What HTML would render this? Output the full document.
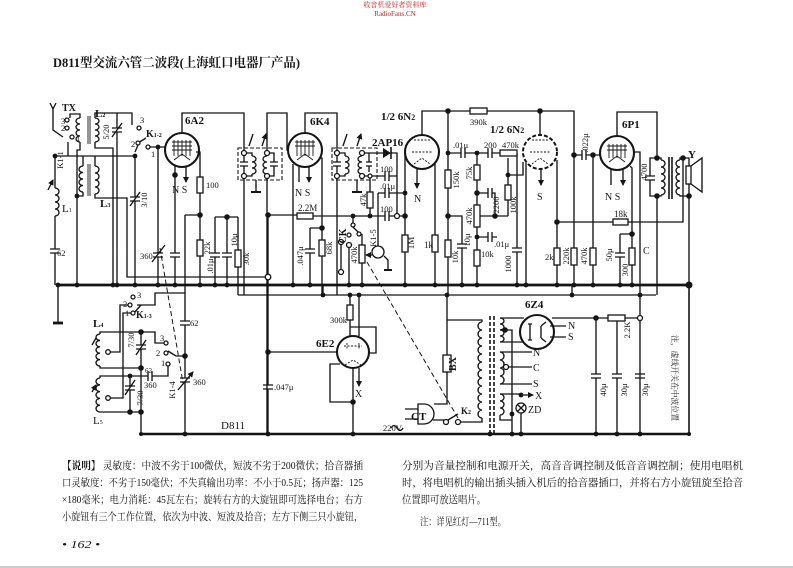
<!DOCTYPE html>
<html><head><meta charset="utf-8">
<style>
html,body{margin:0;padding:0;background:#fff;}
svg{display:block}
.l{stroke:#151515;stroke-width:1.35;fill:none}
.th{stroke:#151515;stroke-width:2.8;fill:none}
.dsh{stroke:#151515;stroke-width:1;fill:none;stroke-dasharray:5,3}
.r{stroke:#151515;stroke-width:1.3;fill:#fff}
.tube{stroke:#151515;stroke-width:2.1;fill:none}
.t{font-family:"Liberation Serif","Noto Serif CJK SC",serif;fill:#151515;font-size:8.5px}
.tb{font-family:"Liberation Serif","Noto Serif CJK SC",serif;fill:#151515;font-size:11px;font-weight:bold}
.d{font-family:"Liberation Serif","Noto Serif CJK SC",serif;fill:#111;font-size:10.5px}
</style></head><body>
<svg width="793" height="568" viewBox="0 0 793 568" xmlns="http://www.w3.org/2000/svg">
<defs>
<marker id="a" markerWidth="6" markerHeight="6" refX="5" refY="3" orient="auto" markerUnits="userSpaceOnUse"><path d="M0,0 L6,3 L0,6 Z" fill="#151515"/></marker>
</defs>
<rect x="0" y="0" width="793" height="568" fill="#fff"/>
<line x1="0" y1="567" x2="793" y2="567" stroke="#bbb" stroke-width="1.5"/>

<!-- watermark -->
<text x="395" y="7" text-anchor="middle" font-family="Liberation Serif,Noto Serif CJK SC,serif" font-size="7" fill="#c22">收音机爱好者资料库</text>
<text x="395" y="16" text-anchor="middle" font-family="Liberation Serif,serif" font-size="7" fill="#c22">RadioFans.CN</text>

<!-- title -->
<text x="53" y="67" class="tb" style="font-size:13px" textLength="247" lengthAdjust="spacingAndGlyphs">D811型交流六管二波段(上海虹口电器厂产品)</text>

<!-- buses -->
<path class="th" d="M58,285 H690"/>
<path class="th" d="M141,434 H689" style="stroke-width:2.4"/>
<path class="l" d="M689,285 V436" style="stroke-width:1.6"/>
<path class="l" d="M238,295 H656"/>
<path class="l" d="M58,285 V322"/>
<path class="th" d="M53,323 H63"/>

<!-- ===== antenna / input ===== -->
<path class="l" d="M50,103 L53,109 L56,103 M53,109 V130 L63,137 M68,142 V156 M55,156 H135 M55,156 V188 M55,216 V249 M50,249 H60 M50,253 H60 M55,253 V285
M80,118 V114 H70 V118 M80,142 V150 H77 V285
M95,118 V113 H132 V125 M95,142 V148 H113 V285
M117,113 V128 M112,128 H122 M112,132 H122 M117,132 V285
M83,156 V166 M83,192 V196 H77
M95,156 V166 M95,194 V198 H127 V277 H268
M135,156 V197 M130,197 H140 M130,201 H140 M135,201 V285
M138,145 L135,152 M138,143 L146,138
M148,147 H166"/>
<path class="l" d="M112,137 L122,123 M130,206 L140,192 M48,190 L53,180" marker-end="url(#a)"/>
<path class="l" style="stroke-width:0.9" d="M88,116 V144 M90,116 V144 M88,164 V196 M90,164 V196"/>
<path class="l" d="M55,188 a4,3.5 0 0 1 0,7 a4,3.5 0 0 1 0,7 a4,3.5 0 0 1 0,7 a4,3.5 0 0 1 0,7"/>
<path class="l" d="M80,118 a4,3 0 0 0 0,6 a4,3 0 0 0 0,6 a4,3 0 0 0 0,6 a4,3 0 0 0 0,6"/>
<path class="l" d="M95,118 a4,3 0 0 1 0,6 a4,3 0 0 1 0,6 a4,3 0 0 1 0,6 a4,3 0 0 1 0,6"/>
<path class="l" d="M83,166 a4,3.25 0 0 0 0,6.5 a4,3.25 0 0 0 0,6.5 a4,3.25 0 0 0 0,6.5 a4,3.25 0 0 0 0,6.5"/>
<path class="l" d="M95,166 a4,3.5 0 0 1 0,7 a4,3.5 0 0 1 0,7 a4,3.5 0 0 1 0,7 a4,3.5 0 0 1 0,7"/>
<g class="r"><circle cx="67" cy="120" r="2"/><circle cx="67" cy="128" r="2"/><circle cx="72" cy="137" r="2"/>
<circle cx="139" cy="128" r="2"/><circle cx="138" cy="143" r="2"/><circle cx="148" cy="147" r="2"/></g>

<!-- ===== 6A2 ===== -->
<circle class="tube" cx="182" cy="150" r="17"/>
<path class="l" style="stroke-width:0.9" d="M172,142 H192 M172,146 H192 M172,150 H192 M174,140 V156 M178,140 V156 M182,140 V156 M186,140 V156 M190,140 V156 M174,160 L182,154 L190,160"/>
<path class="l" d="M158,147 V253 M153,253 H163 M153,257 H163 M158,257 V285
M175,166 V253 M170,253 H180 M170,257 H180 M175,257 V285
M182,133 V113 H244 V153
M196,152 H200 V177 M200,193 V240 M200,256 V285
M185,215 H200 M185,215 V321 M180,321 H190 M180,325 H190 M185,325 V378 M180,378 H190 M180,382 H190 M185,382 V434
M215,217 H238 M215,217 V253 M210,253 H220 M210,257 H220 M215,257 V285
M227,217 V253 M222,253 H232 M222,257 H232 M227,257 V285
M238,217 V250 M238,267 V295
M244,176 V295"/>
<path class="l" d="M186,166 V182" marker-end="url(#a)"/>
<path class="l" d="M152,262 L165,245 M178,390 L193,372" marker-end="url(#a)"/>
<rect class="r" x="197" y="177" width="6" height="16"/>
<rect class="r" x="197" y="240" width="6" height="16"/>
<rect class="r" x="235" y="250" width="6" height="17"/>

<!-- IF1 -->
<rect x="238" y="148" width="44" height="32" fill="none" stroke="#151515" stroke-width="1.1" stroke-dasharray="4,2"/>
<path class="l" d="M244,153 V162 M240,162 H248 M240,166 H248 M244,166 V176 M244,153 H252 V156 M252,174 V176 H244
M267,153 V156 M267,174 V176 M267,153 H274 V162 M270,162 H278 M270,166 H278 M274,166 V176 H267
M256,180 V192 M267,176 V434"/>
<path class="th" d="M251,192 H261" style="stroke-width:2"/>
<path class="l" d="M252,156 a4,3 0 0 1 0,6 a4,3 0 0 1 0,6 a4,3 0 0 1 0,6"/>
<path class="l" d="M267,156 a4,3 0 0 0 0,6 a4,3 0 0 0 0,6 a4,3 0 0 0 0,6"/>
<path class="l" d="M249,146 L253,134 M262,146 L266,134" marker-end="url(#a)"/>

<!-- ===== 6K4 ===== -->
<circle class="tube" cx="305" cy="150" r="17"/>
<path class="l" style="stroke-width:0.9" d="M295,142 H315 M295,146 H315 M297,140 V156 M301,140 V156 M305,140 V156 M309,140 V156 M313,140 V156 M297,160 L305,154 L313,160"/>
<path class="l" d="M267,153 V113 H287 V150 H289
M305,133 V113 H337 V153
M293,164 V285
M320,158 H322 V295 M310,228 H322 M310,228 V249 M305,249 H315 M305,253 H315 M310,253 V285
M268,215 H297 M313,216 H385 M385,211 V221 M389,211 V221 M389,216 H405"/>
<path class="l" d="M299,167 V182 M309,167 V182" marker-end="url(#a)"/>
<rect class="r" x="297" y="213" width="16" height="6"/>
<rect class="r" x="319" y="240" width="6" height="16"/>

<!-- IF2 -->
<rect x="332" y="148" width="45" height="32" fill="none" stroke="#151515" stroke-width="1.1" stroke-dasharray="4,2"/>
<path class="l" d="M337,153 V162 M333,162 H341 M333,166 H341 M337,166 V176 M337,153 H345 V156 M345,174 V176 H337 M337,176 V295
M362,153 V156 M362,174 V176 M362,153 H369 V162 M366,162 H372 M366,166 H372 M369,166 V172
M362,153 H383 M391,153 H397 V216
M362,176 H385 M385,171 V181 M389,171 V181 M389,176 H397
M370,176 V192 M370,208 V216
M357,180 V192
M378,193 H385 M385,188 V198 M389,188 V198 M389,193 H405 M378,193 V246
M384,256 L388,260 V270"/>
<path class="th" d="M352,192 H362 M384,270 H392" style="stroke-width:2"/>
<path d="M383,148 L383,158 L391,153 Z" fill="#151515"/><path class="l" d="M391,147 V159" style="stroke-width:1.6"/>
<path class="l" d="M345,156 a4,3 0 0 1 0,6 a4,3 0 0 1 0,6 a4,3 0 0 1 0,6"/>
<path class="l" d="M362,156 a4,3 0 0 0 0,6 a4,3 0 0 0 0,6 a4,3 0 0 0 0,6"/>
<path class="l" d="M343,146 L347,134 M357,146 L361,134" marker-end="url(#a)"/>
<rect class="r" x="367" y="192" width="6" height="16"/>
<circle class="l" cx="378" cy="252" r="6"/>
<path class="l" d="M353,216 V223 M353,227 L359,233 M349,247 V285 M362,234 V245 M362,263 V285 M341,244 V270"/>
<g class="r"><circle cx="353" cy="225" r="2"/><circle cx="349" cy="235" r="2"/><circle cx="359" cy="234" r="2"/><circle cx="341" cy="242" r="2.5"/><circle cx="349" cy="245" r="2.5"/><circle cx="341" cy="272" r="2.5"/></g>
<rect class="r" x="359" y="245" width="6" height="18"/>
<path class="l" d="M372,255 L366,255" marker-end="url(#a)"/>
<path class="dsh" d="M367,262 L458,418"/>
<path class="dsh" d="M160,248 L183,383"/>

<!-- ===== 6N2 #1 ===== -->
<circle class="tube" cx="422" cy="152" r="17"/>
<path class="l" style="stroke-width:0.9" d="M414,140 H430 M412,152 H432 M414,164 L422,158 L430,164" stroke-dasharray="2,1.5"/>
<path class="l" d="M405,152 V235 M405,252 V285
M435,163 V235 M435,252 V285
M422,135 V111 H470 M487,111 H574 V248 M574,265 V285
M448,111 V170 M448,188 V240 M448,257 V295
M448,153 H461 M461,148 V158 M465,148 V158 M465,153 H488 M488,148 V158 M492,148 V158 M492,153 H500 M517,153 V248 M512,248 H522 M512,252 H522 M517,252 V285
M477,153 V165 M477,180 V205 M477,227 V250 M477,266 V285
M477,193 H488 M488,188 V198 M492,188 V198 M492,193 H495 V216 M480,216 H508
M477,237 H488 M488,232 V242 M492,232 V242 M492,237 H497
M448,216 H462 V244 M457,244 H467 M457,248 H467 M462,248 V285
M508,158 V175 M508,175 H523 V162 M508,175 V185 M508,200 V216"/>
<path class="l" d="M417,168 V188" marker-end="url(#a)"/>
<rect class="r" x="402" y="235" width="6" height="17"/>
<rect class="r" x="432" y="235" width="6" height="17"/>
<rect class="r" x="470" y="108" width="17" height="6"/>
<rect class="r" x="445" y="170" width="6" height="18"/>
<rect class="r" x="445" y="240" width="6" height="17"/>
<rect class="r" x="500" y="150" width="17" height="6"/>
<rect class="r" x="474" y="165" width="6" height="15"/>
<rect class="r" x="474" y="205" width="6" height="22"/>
<rect class="r" x="474" y="250" width="6" height="16"/>
<rect class="r" x="505" y="185" width="6" height="15"/>

<!-- ===== 6N2 #2 ===== -->
<circle cx="540" cy="152" r="17" fill="none" stroke="#151515" stroke-width="2" stroke-dasharray="4,2"/>
<path class="l" style="stroke-width:0.9" d="M532,140 H548 M530,152 H550 M532,164 L540,158 L548,164" stroke-dasharray="2,1.5"/>
<path class="l" d="M540,135 V111 M526,163 V285 M557,160 V248 M557,265 V285
M557,222 H613 M628,222 H683 V158
M574,155 H582 M582,150 V160 M586,150 V160 M586,155 H600
M593,155 V248 M593,265 V285"/>
<path class="l" d="M541,168 V185" marker-end="url(#a)"/>
<rect class="r" x="554" y="248" width="6" height="17"/>
<rect class="r" x="571" y="248" width="6" height="17"/>
<rect class="r" x="590" y="248" width="6" height="17"/>
<rect class="r" x="613" y="219" width="15" height="6"/>

<!-- ===== 6P1 ===== -->
<circle class="tube" cx="617" cy="153" r="17"/>
<path class="l" style="stroke-width:0.9" d="M607,146 H627 M607,150 H627 M609,144 V158 M613,144 V158 M617,144 V158 M621,144 V158 M625,144 V158 M609,162 L617,156 L625,162"/>
<path class="l" d="M617,136 V112 H657 V158
M630,166 L632,168 V248 M632,265 V285
M620,234 H632 M620,234 V253 M615,253 H625 M615,257 H625 M620,257 V285
M634,152 H640 V434
M657,158 H650 V176 M645,176 H655 M645,180 H655 M650,180 V196 H657
M657,158 H661 V160 M661,195 V196 H657 M657,196 V295
M683,158 H680 V160 M680,195 V196 H689
M683,158 H689 V166 M689,184 V285"/>
<path class="l" d="M611,168 V185 M623,168 V185" marker-end="url(#a)"/>
<rect class="r" x="629" y="248" width="6" height="17"/>
<path class="l" d="M661,160 a4,3.5 0 0 1 0,7 a4,3.5 0 0 1 0,7 a4,3.5 0 0 1 0,7 a4,3.5 0 0 1 0,7 a4,3.5 0 0 1 0,7"/>
<path class="l" d="M680,160 a4,3.5 0 0 0 0,7 a4,3.5 0 0 0 0,7 a4,3.5 0 0 0 0,7 a4,3.5 0 0 0 0,7 a4,3.5 0 0 0 0,7"/>
<path class="l" style="stroke-width:1.6" d="M669,157 V199 M672,157 V199"/>
<rect class="r" x="686" y="166" width="5" height="18"/>
<path class="l" d="M691,166 L702,158 L702,192 L691,184"/>

<!-- ===== lower left RF ===== -->
<path class="l" d="M137,305 H155 V293 H185
M128,305 H120 V352 H108
M131,313 H123 V398 H108
M141,332 H100 V334 M100,366 V368 H141
M141,332 V345 M136,345 H146 M136,349 H146 M141,349 V434
M141,332 H155 V343 H164
M176,356 L168,351 M176,356 H185
M168,366 V376 H152 M152,371 V381 M148,371 V381 M148,376 H100 V378
M100,412 H141
M130,376 V386 M125,386 H135 M125,390 H135 M130,390 V412
M134,313 L141,305"/>
<path class="l" d="M100,334 a4,3.2 0 0 0 0,6.4 a4,3.2 0 0 0 0,6.4 a4,3.2 0 0 0 0,6.4 a4,3.2 0 0 0 0,6.4 a4,3.2 0 0 0 0,6.4"/>
<path class="l" d="M100,378 a4,3.4 0 0 0 0,6.8 a4,3.4 0 0 0 0,6.8 a4,3.4 0 0 0 0,6.8 a4,3.4 0 0 0 0,6.8 a4,3.4 0 0 0 0,6.8"/>
<path class="l" d="M136,355 L146,340 M125,395 L135,380 M92,345 L96,338 M92,392 L96,385" marker-end="url(#a)"/>
<g class="r"><circle cx="133" cy="297" r="2"/><circle cx="130" cy="305" r="2"/><circle cx="133" cy="313" r="2"/>
<circle cx="166" cy="343" r="2"/><circle cx="166" cy="353" r="2"/><circle cx="168" cy="364" r="2"/><circle cx="108" cy="352" r="2.3"/><circle cx="108" cy="398" r="2.3"/></g>

<!-- AGC & 6E2 -->
<path class="l" d="M268,215 V385 M263,385 H273 M263,389 H273 M268,389 V434 M268,352 H338
M323,285 V295
M350,295 V305 M350,320 V336 M359,295 V336
M350,327 H376 V353 H369
M353,368 V434 M353,402 H330 V364 H340"/>
<path class="l" d="M359,368 V386" marker-end="url(#a)"/>
<rect class="r" x="347" y="305" width="6" height="15"/>
<circle class="tube" cx="353" cy="352" r="16"/>
<path class="l" style="stroke-width:0.9" d="M344,346 H362 M347,343 V350 M359,343 V350 M345,365 L353,360 L361,365" stroke-dasharray="2,1.5"/>

<!-- power -->
<path class="l" d="M447,295 V320 M447,320 V355 M447,372 V404 H434
M433,420 H444 M448,420 L458,414 M460,422 H482 V418
M447,320 H482 V322
M405,409 H418 M405,419 H418
M500,318 H524 M500,342 H524 M500,330 H512 V434
M552,318 H608 M625,318 H637
M500,352 H530 M509,367 H530 M500,384 H530
M500,394 H521 V395 M521,413 V434 M500,415 V420 H512
M596,318 V374 M591,374 H601 M591,378 H601 M596,378 V434
M617,321 V374 M612,374 H622 M612,378 H622 M617,378 V434
M635,374 H645 M635,378 H645
M572,285 V295"/>
<path class="l" d="M418,404 H424 A10,10 0 0 1 424,424 H418 Z"/>
<path class="l" d="M391,428 q3,-5 6,0 q3,5 6,0"/>
<rect class="r" x="443" y="355" width="8" height="17"/>
<path class="l" d="M482,322 a4,4 0 0 0 0,8 a4,4 0 0 0 0,8 a4,4 0 0 0 0,8 a4,4 0 0 0 0,8 a4,4 0 0 0 0,8 a4,4 0 0 0 0,8 a4,4 0 0 0 0,8 a4,4 0 0 0 0,8 a4,4 0 0 0 0,8 a4,4 0 0 0 0,8 a4,4 0 0 0 0,8 a4,4 0 0 0 0,8"/>
<path class="l" style="stroke-width:1.6" stroke-dasharray="4,2" d="M490,316 V434 M494,316 V434"/>
<path class="l" d="M500,318 a4,3 0 0 1 0,6 a4,3 0 0 1 0,6 a4,3 0 0 1 0,6 a4,3 0 0 1 0,6"/>
<path class="l" d="M500,352 a4,4 0 0 1 0,8 a4,4 0 0 1 0,8 a4,4 0 0 1 0,8 a4,4 0 0 1 0,8"/>
<path class="l" d="M500,394 a4,3.5 0 0 1 0,7 a4,3.5 0 0 1 0,7 a4,3.5 0 0 1 0,7"/>
<circle class="tube" cx="537" cy="332" r="17"/>
<path class="l" d="M530,324 V340 M528,324 H532 M528,340 H532 M541,326 V338 M541,326 L546,322 M541,338 L546,342"/>
<path class="l" d="M550,326 H566 M550,337 H566 M530,352 H532 M530,367 H532 M530,384 H532 M521,395 H533" marker-end="url(#a)"/>
<circle class="r" cx="506" cy="367" r="2.5"/>
<circle class="r" cx="521" cy="408" r="5"/>
<path class="l" d="M517.5,404.5 L524.5,411.5 M524.5,404.5 L517.5,411.5"/>
<g class="r"><circle cx="446" cy="422" r="2.5"/><circle cx="458" cy="422" r="2.5"/></g>
<rect class="r" x="608" y="315" width="17" height="6"/>

<!-- open junctions -->
<g class="r">
<circle cx="244" cy="153" r="2.5"/><circle cx="244" cy="176" r="2.5"/><circle cx="267" cy="153" r="2.5"/><circle cx="267" cy="176" r="2.5"/>
<circle cx="337" cy="153" r="2.5"/><circle cx="337" cy="176" r="2.5"/><circle cx="362" cy="153" r="2.5"/><circle cx="362" cy="176" r="2.5"/>
<circle cx="397" cy="216" r="2.5"/><circle cx="268" cy="277" r="2.8"/><circle cx="640" cy="318" r="2.5"/><circle cx="370" cy="176" r="2"/>
</g>
<!-- filled junctions -->
<g fill="#151515">
<circle cx="58" cy="285" r="2.4"/><circle cx="77" cy="285" r="2.4"/><circle cx="113" cy="285" r="2.4"/><circle cx="117" cy="285" r="2.4"/><circle cx="135" cy="285" r="2.4"/><circle cx="158" cy="285" r="2.4"/><circle cx="175" cy="285" r="2.4"/><circle cx="200" cy="285" r="2.4"/><circle cx="215" cy="285" r="2.4"/><circle cx="227" cy="285" r="2.4"/><circle cx="293" cy="285" r="2.4"/><circle cx="310" cy="285" r="2.4"/><circle cx="349" cy="285" r="2.4"/><circle cx="362" cy="285" r="2.4"/><circle cx="405" cy="285" r="2.4"/><circle cx="435" cy="285" r="2.4"/><circle cx="462" cy="285" r="2.4"/><circle cx="477" cy="285" r="2.4"/><circle cx="517" cy="285" r="2.4"/><circle cx="526" cy="285" r="2.4"/><circle cx="557" cy="285" r="2.4"/><circle cx="574" cy="285" r="2.4"/><circle cx="593" cy="285" r="2.4"/><circle cx="620" cy="285" r="2.4"/><circle cx="632" cy="285" r="2.4"/><circle cx="689" cy="285" r="3.5"/>
<circle cx="77" cy="196" r="2.4"/><circle cx="135" cy="156" r="2.4"/><circle cx="55" cy="156" r="2.4"/><circle cx="158" cy="147" r="2.4"/><circle cx="175" cy="175" r="2.8"/><circle cx="200" cy="215" r="2.8"/><circle cx="227" cy="217" r="2.8"/><circle cx="268" cy="215" r="2.8"/><circle cx="322" cy="228" r="2.8"/><circle cx="353" cy="216" r="2.4"/><circle cx="370" cy="216" r="2.4"/><circle cx="405" cy="193" r="2.4"/><circle cx="405" cy="216" r="2.8"/><circle cx="448" cy="111" r="2.8"/><circle cx="448" cy="153" r="2.4"/><circle cx="448" cy="216" r="2.8"/><circle cx="477" cy="153" r="2.4"/><circle cx="477" cy="193" r="2.8"/><circle cx="477" cy="237" r="2.4"/><circle cx="495" cy="216" r="2.8"/><circle cx="508" cy="175" r="2.4"/><circle cx="540" cy="111" r="2.8"/><circle cx="574" cy="155" r="2.8"/><circle cx="593" cy="155" r="2.8"/><circle cx="557" cy="222" r="2.8"/><circle cx="632" cy="234" r="2.8"/><circle cx="657" cy="158" r="2.8"/><circle cx="657" cy="196" r="2.8"/><circle cx="683" cy="158" r="2.8"/><circle cx="689" cy="196" r="2.8"/>
<circle cx="141" cy="332" r="2.8"/><circle cx="141" cy="368" r="2.8"/><circle cx="130" cy="376" r="2.4"/><circle cx="141" cy="412" r="2.8"/><circle cx="130" cy="412" r="2.8"/><circle cx="185" cy="356" r="2.8"/><circle cx="268" cy="352" r="2.8"/><circle cx="353" cy="402" r="2.8"/><circle cx="350" cy="295" r="2.4"/><circle cx="359" cy="295" r="2.4"/><circle cx="323" cy="295" r="2.4"/><circle cx="447" cy="295" r="2.4"/><circle cx="572" cy="295" r="2.4"/><circle cx="640" cy="295" r="2.4"/><circle cx="596" cy="318" r="2.8"/><circle cx="505" cy="330" r="2.8"/><circle cx="521" cy="395" r="2.4"/><circle cx="512" cy="414" r="2.4"/>
<circle cx="141" cy="434" r="2"/><circle cx="185" cy="434" r="2.4"/><circle cx="268" cy="434" r="2.4"/><circle cx="353" cy="434" r="2.4"/><circle cx="490" cy="434" r="2.4"/><circle cx="512" cy="434" r="2.4"/><circle cx="521" cy="434" r="2.4"/><circle cx="596" cy="434" r="2.4"/><circle cx="617" cy="434" r="2.4"/><circle cx="640" cy="434" r="2.4"/><circle cx="689" cy="434" r="2"/>
</g>

<!-- ===== labels ===== -->
<g class="tb">
<text x="62" y="111" style="font-size:10px">TX</text>
<text x="95" y="117">L<tspan style="font-size:6px">2</tspan></text>
<text x="100" y="207">L<tspan style="font-size:6px">3</tspan></text>
<text x="62" y="212" style="font-weight:normal">L<tspan style="font-size:6px">1</tspan></text>
<text x="146" y="137" style="font-size:10px">K<tspan style="font-size:6px">1-2</tspan></text>
<text x="185" y="124">6A2</text>
<text x="310" y="125">6K4</text>
<text x="372" y="146">2AP16</text>
<text x="381" y="120">1/2 6N<tspan style="font-size:8px">2</tspan></text>
<text x="490" y="133">1/2 6N<tspan style="font-size:8px">2</tspan></text>
<text x="622" y="128">6P1</text>
<text x="688" y="158">Y</text>
<text x="136" y="318" style="font-size:10px">K<tspan style="font-size:6px">1-3</tspan></text>
<text x="93" y="327">L<tspan style="font-size:6px">4</tspan></text>
<text x="93" y="424" style="font-weight:normal">L<tspan style="font-size:6px">5</tspan></text>
<text x="221" y="429" style="font-weight:normal">D811</text>
<text x="316" y="347">6E2</text>
<text x="525" y="308">6Z4</text>
<text x="411" y="420">CT</text>
<text x="461" y="414" style="font-size:9px">K<tspan style="font-size:6px">2</tspan></text>
</g>
<g class="t">
<text x="61" y="124">3</text><text x="61" y="131">2</text><text x="76" y="141">1</text>
<text x="140" y="123">3</text><text x="131" y="147">2</text><text x="151" y="157">1</text>
<text x="172" y="193" style="font-size:10px">N S</text>
<text x="206" y="188">100</text>
<text x="140" y="259">360</text>
<text x="57" y="256">62</text>
<text x="295" y="196" style="font-size:10px">N S</text>
<text x="298" y="211" style="font-size:9px">2.2M</text>
<text x="380" y="172">100</text>
<text x="380" y="189">.01μ</text>
<text x="380" y="212">100</text>
<text x="414" y="202" style="font-size:10px">N</text>
<text x="424" y="248" style="font-size:9px">1k</text>
<text x="470" y="125">390k</text>
<text x="453" y="148">.01μ</text>
<text x="484" y="148">200</text>
<text x="502" y="148">470k</text>
<text x="481" y="257">10k</text>
<text x="494" y="247">.01μ</text>
<text x="537" y="200" style="font-size:10px">S</text>
<text x="605" y="200" style="font-size:10px">N S</text>
<text x="614" y="217" style="font-size:9px">18k</text>
<text x="545" y="260">2k</text>
<text x="643" y="254" style="font-size:10px">C</text>
<text x="137" y="298">3</text><text x="123" y="307">2</text><text x="125" y="316">1</text>
<text x="160" y="341">3</text><text x="156" y="356">2</text><text x="161" y="366">1</text>
<text x="190" y="326">62</text>
<text x="145" y="373" style="font-size:7px">62</text>
<text x="144" y="388">360</text>
<text x="193" y="385">360</text>
<text x="274" y="390">.047μ</text>
<text x="330" y="323">300k</text>
<text x="355" y="397" style="font-size:10px">X</text>
<text x="383" y="431">220V</text>
<text x="568" y="329" style="font-size:10px">N</text>
<text x="568" y="340" style="font-size:10px">S</text>
<text x="533" y="356" style="font-size:10px">N</text>
<text x="533" y="371" style="font-size:10px">C</text>
<text x="533" y="387" style="font-size:10px">S</text>
<text x="535" y="399" style="font-size:10px">X</text>
<text x="528" y="413" style="font-size:10px">ZD</text>
</g>
<g class="t" text-anchor="middle">
<text x="63" y="160" transform="rotate(-90 63 160)">K1-1</text>
<text x="109" y="132" transform="rotate(-90 109 132)">5/20</text>
<text x="147" y="200" transform="rotate(-90 147 200)">3/10</text>
<text x="210" y="248" transform="rotate(-90 210 248)">22k</text>
<text x="237" y="240" transform="rotate(-90 237 240)">10μ</text>
<text x="213" y="266" transform="rotate(-90 213 266)">.01μ</text>
<text x="249" y="259" transform="rotate(-90 249 259)">30k</text>
<text x="303" y="256" transform="rotate(-90 303 256)">.047μ</text>
<text x="332" y="248" transform="rotate(-90 332 248)">68k</text>
<text x="346" y="236" transform="rotate(-90 346 236)" style="font-size:10px;font-weight:bold">CK</text>
<text x="376" y="238" transform="rotate(-90 376 238)">K1-5</text>
<text x="357" y="255" transform="rotate(-90 357 255)">470k</text>
<text x="366" y="200" transform="rotate(-90 366 200)">47k</text>
<text x="414" y="243" transform="rotate(-90 414 243)" style="font-size:9px">1M</text>
<text x="459" y="180" transform="rotate(-90 459 180)">150k</text>
<text x="472" y="173" transform="rotate(-90 472 173)">75k</text>
<text x="499" y="205" transform="rotate(-90 499 205)">2200</text>
<text x="472" y="216" transform="rotate(-90 472 216)">470k</text>
<text x="516" y="205" transform="rotate(-90 516 205)">100k</text>
<text x="470" y="240" transform="rotate(-90 470 240)">10μ</text>
<text x="458" y="257" transform="rotate(-90 458 257)">10k</text>
<text x="511" y="264" transform="rotate(-90 511 264)">1000</text>
<text x="569" y="256" transform="rotate(-90 569 256)">220k</text>
<text x="587" y="256" transform="rotate(-90 587 256)">470k</text>
<text x="612" y="255" transform="rotate(-90 612 255)">50μ</text>
<text x="628" y="270" transform="rotate(-90 628 270)">300</text>
<text x="588" y="143" transform="rotate(-90 588 143)">.022μ</text>
<text x="647" y="172" transform="rotate(-90 647 172)">4700</text>
<text x="134" y="340" transform="rotate(-90 134 340)">7/30</text>
<text x="143" y="398" transform="rotate(-90 143 398)">7/30</text>
<text x="175" y="390" transform="rotate(-90 175 390)">K1-4</text>
<text x="456" y="364" transform="rotate(-90 456 364)" style="font-size:10px;font-weight:bold">BX</text>
<text x="630" y="330" transform="rotate(-90 630 330)">2.2K</text>
<text x="606" y="390" transform="rotate(-90 606 390)">40μ</text>
<text x="627" y="390" transform="rotate(-90 627 390)">30μ</text>
<text x="648" y="390" transform="rotate(-90 648 390)">30μ</text>
</g>
<text x="672" y="378" transform="rotate(90 672 378)" text-anchor="middle" class="t" style="font-size:8px" textLength="86" lengthAdjust="spacingAndGlyphs">注，虚线开关在中波位置</text>

<!-- ===== description ===== -->
<text x="62" y="469" class="d" textLength="301" lengthAdjust="spacingAndGlyphs"><tspan font-weight="bold">【说明】</tspan> 灵敏度：中波不劣于100微伏，短波不劣于200微伏；拾音器插</text>
<text x="62" y="486" class="d" textLength="301" lengthAdjust="spacingAndGlyphs">口灵敏度：不劣于150毫伏；不失真输出功率：不小于0.5瓦；扬声器：125</text>
<text x="62" y="503" class="d" textLength="301" lengthAdjust="spacingAndGlyphs">×180毫米；电力消耗：45瓦左右；旋转右方的大旋钮即可选择电台；右方</text>
<text x="62" y="520" class="d" textLength="301" lengthAdjust="spacingAndGlyphs">小旋钮有三个工作位置，依次为中波、短波及拾音；左方下侧三只小旋钮，</text>
<text x="402" y="469" class="d" textLength="341" lengthAdjust="spacingAndGlyphs">分别为音量控制和电源开关，高音音调控制及低音音调控制；使用电唱机</text>
<text x="402" y="486" class="d" textLength="341" lengthAdjust="spacingAndGlyphs">时，将电唱机的输出插头插入机后的拾音器插口，并将右方小旋钮旋至拾音</text>
<text x="402" y="503" class="d" textLength="84" lengthAdjust="spacingAndGlyphs">位置即可放送唱片。</text>
<text x="420" y="525" class="d" textLength="86" lengthAdjust="spacingAndGlyphs">注：详见红灯—711型。</text>
<text x="62" y="548" class="d" style="font-style:italic" textLength="38" lengthAdjust="spacingAndGlyphs">• 162 •</text>
</svg>
</body></html>
